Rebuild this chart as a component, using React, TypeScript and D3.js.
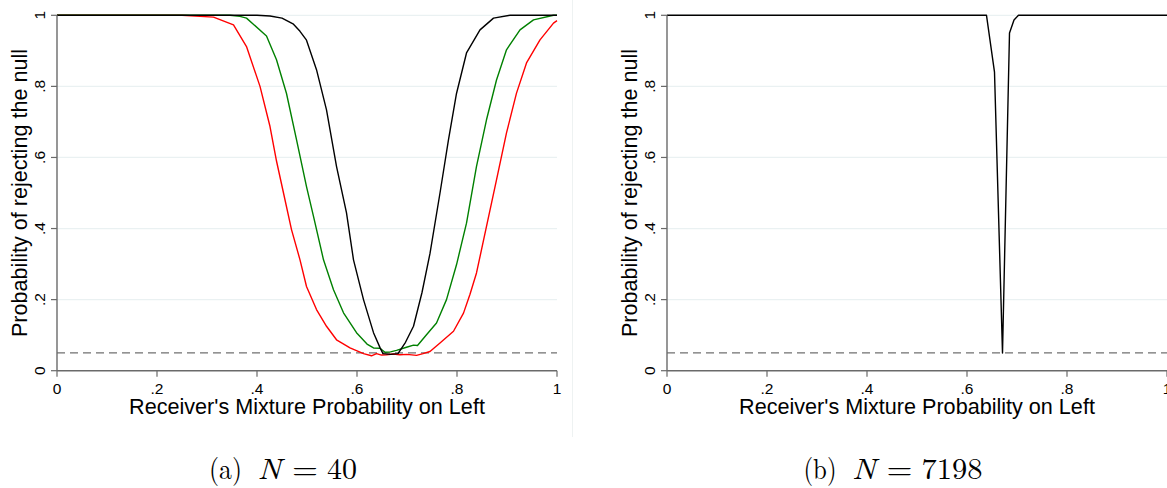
import React from "react";
import * as d3 from "d3";

// ---------- data ----------
const xTickValues = [0, 0.2, 0.4, 0.6, 0.8, 1];
const xTickLabels = ["0", ".2", ".4", ".6", ".8", "1"];
const yTickValues = [0, 0.2, 0.4, 0.6, 0.8, 1];
const yTickLabels = ["0", ".2", ".4", ".6", ".8", "1"];
const nullLevel = 0.05;

// Panel (a) N = 40 : three curves
const blackA: [number, number][] = [
  [0, 1], [0.4, 1], [0.426, 0.998], [0.45, 0.992], [0.473, 0.975], [0.486, 0.955], [0.499, 0.93],
  [0.519, 0.847], [0.539, 0.734], [0.559, 0.575], [0.579, 0.444], [0.593, 0.312],
  [0.613, 0.2], [0.633, 0.107], [0.646, 0.065], [0.652, 0.048], [0.667, 0.046],
  [0.682, 0.048], [0.697, 0.08], [0.713, 0.125], [0.73, 0.22], [0.746, 0.33],
  [0.766, 0.5], [0.783, 0.65], [0.799, 0.78], [0.819, 0.894], [0.846, 0.959],
  [0.873, 0.992], [0.906, 1], [1, 1],
];
const greenA: [number, number][] = [
  [0, 1], [0.346, 1], [0.366, 0.997], [0.379, 0.992], [0.419, 0.942], [0.439, 0.875], [0.459, 0.78],
  [0.479, 0.65], [0.499, 0.518], [0.513, 0.434], [0.533, 0.312], [0.553, 0.228],
  [0.573, 0.163], [0.599, 0.107], [0.62, 0.075], [0.633, 0.064], [0.646, 0.063],
  [0.656, 0.052], [0.667, 0.053], [0.679, 0.057], [0.699, 0.066], [0.713, 0.072],
  [0.721, 0.071], [0.739, 0.101], [0.759, 0.134], [0.779, 0.2], [0.799, 0.298],
  [0.819, 0.415], [0.839, 0.575], [0.859, 0.706], [0.879, 0.818], [0.899, 0.903],
  [0.926, 0.959], [0.953, 0.987], [0.993, 1], [1, 1],
];
const redA: [number, number][] = [
  [0, 1], [0.25, 1], [0.313, 0.995], [0.353, 0.973], [0.379, 0.912], [0.406, 0.8],
  [0.426, 0.687], [0.439, 0.59], [0.453, 0.5], [0.469, 0.397], [0.486, 0.312],
  [0.499, 0.237], [0.519, 0.172], [0.539, 0.125], [0.559, 0.087], [0.586, 0.064],
  [0.613, 0.048], [0.629, 0.042], [0.639, 0.048], [0.649, 0.044], [0.659, 0.045],
  [0.672, 0.047], [0.686, 0.045], [0.7, 0.046], [0.719, 0.043], [0.732, 0.048],
  [0.746, 0.054], [0.766, 0.078], [0.793, 0.111], [0.813, 0.162], [0.826, 0.215],
  [0.839, 0.275], [0.859, 0.406], [0.879, 0.537], [0.899, 0.669], [0.919, 0.781],
  [0.939, 0.866], [0.966, 0.931], [0.993, 0.978], [1, 0.985],
];
// Panel (b) N = 7198
const blackB: [number, number][] = [
  [0, 1], [0.639, 1], [0.655, 0.84], [0.671, 0.05], [0.685, 0.95], [0.694, 0.987],
  [0.703, 1], [1, 1],
];

const panelA = { left: 57, caption: "a", n: "40", series: [
  { data: redA, color: "#ff0000" },
  { data: greenA, color: "#008000" },
  { data: blackA, color: "#000000" },
] };
const panelB = { left: 667, caption: "b", n: "7198", series: [
  { data: blackB, color: "#000000" },
] };

const W = 1167;
const H = 488;
const PLOT_W = 500;
const TOP = 15.3;
const BOTTOM = 370.7;
const SANS = "'Liberation Sans', Arimo, Arial, sans-serif";
const SERIF = "'Latin Modern Roman', 'CMU Serif', 'Liberation Serif', 'DejaVu Serif', serif";
const AXIS = "#6a6a6a";
const GRID = "#eaf1f2";

function Caption({ left, letter, n }: { left: number; letter: string; n: string }) {
  const digitW = 15.5;
  const width = 117 + n.length * digitW;
  const start = left + 226 - width / 2;
  const base = 479;
  const common = { y: base, fontFamily: SERIF, fontSize: 29, fill: "#000", lengthAdjust: "spacingAndGlyphs" as const };
  return (
    <g>
      <text x={start} textLength={33} {...common}>({letter})</text>
      <text x={start + 48.5} textLength={24} fontStyle="italic" {...common}>N</text>
      <text x={start + 83} textLength={26} {...common}>=</text>
      <text x={start + 118} textLength={n.length * digitW - 1} {...common}>{n}</text>
    </g>
  );
}

function Panel({ panel }: { panel: typeof panelA }) {
  const x = d3.scaleLinear().domain([0, 1]).range([panel.left, panel.left + PLOT_W]);
  const y = d3.scaleLinear().domain([0, 1]).range([BOTTOM, TOP]);
  const line = d3
    .line<[number, number]>()
    .x((d) => x(d[0]))
    .y((d) => y(d[1]))
    .curve(d3.curveLinear);
  const cx = panel.left + PLOT_W / 2;
  const my = (TOP + BOTTOM) / 2;
  return (
    <g>
      {/* grid */}
      {yTickValues.filter((v) => v > 0).map((v) => (
        <line key={"g" + v} x1={x(0)} x2={x(1)} y1={y(v)} y2={y(v)} stroke={GRID} strokeWidth={1.2} />
      ))}
      {/* null reference line */}
      <line x1={x(0)} x2={x(1)} y1={y(nullLevel)} y2={y(nullLevel)} stroke="#707070" strokeWidth={1.2} strokeDasharray="8,5" />
      {/* curves */}
      {panel.series.map((s, i) => (
        <path key={i} d={line(s.data) || ""} fill="none" stroke={s.color} strokeWidth={1.4} strokeLinejoin="round" />
      ))}
      {/* axes */}
      <line x1={x(0)} x2={x(0)} y1={y(0)} y2={y(1)} stroke={AXIS} strokeWidth={1.4} />
      <line x1={x(0)} x2={x(1)} y1={y(0)} y2={y(0)} stroke={AXIS} strokeWidth={1.4} />
      {yTickValues.map((v, i) => (
        <g key={"yt" + v}>
          <line x1={x(0) - 6} x2={x(0)} y1={y(v)} y2={y(v)} stroke={AXIS} strokeWidth={1.2} />
          <text
            transform={`translate(${x(0) - 12.5},${y(v)}) rotate(-90)`}
            textAnchor="middle"
            fontFamily={SANS}
            fontSize={15.5}
            fill="#000"
          >
            {yTickLabels[i]}
          </text>
        </g>
      ))}
      {xTickValues.map((v, i) => (
        <g key={"xt" + v}>
          <line x1={x(v)} x2={x(v)} y1={y(0)} y2={y(0) + 6} stroke={AXIS} strokeWidth={1.2} />
          <text x={x(v)} y={393.5} textAnchor="middle" fontFamily={SANS} fontSize={15.5} fill="#000">
            {xTickLabels[i]}
          </text>
        </g>
      ))}
      <text
        transform={`translate(${x(0) - 30.5},${my}) rotate(-90)`}
        textAnchor="middle"
        fontFamily={SANS}
        fontSize={21.6}
        fill="#000"
      >
        Probability of rejecting the null
      </text>
      <text x={cx} y={413.5} textAnchor="middle" fontFamily={SANS} fontSize={21.6} fill="#000">
        Receiver's Mixture Probability on Left
      </text>
      <Caption left={panel.left} letter={panel.caption} n={panel.n} />
    </g>
  );
}

export default function App() {
  return (
    <svg
      width={W}
      height={H}
      viewBox={`0 0 ${W} ${H}`}
      style={{ position: "absolute", left: 0, top: 0, background: "#fff" }}
    >
      <rect x={0} y={0} width={W} height={H} fill="#fff" />
      <line x1={572.5} x2={572.5} y1={0} y2={437} stroke="#eef2f2" strokeWidth={1} />
      <Panel panel={panelA} />
      <Panel panel={panelB} />
    </svg>
  );
}
